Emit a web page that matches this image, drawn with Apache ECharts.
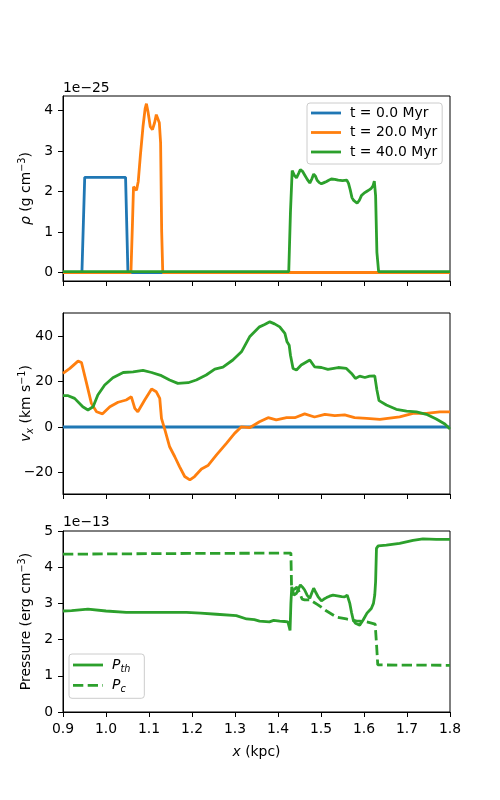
<!DOCTYPE html>
<html><head><meta charset="utf-8">
<script src="https://cdn.jsdelivr.net/npm/echarts@6/dist/echarts.min.js"></script>
<style>html,body{margin:0;padding:0;background:#fff}#c{width:500px;height:800px}</style>
</head><body><div id="c"></div>
<script>
// ---- data ----
const xTicks = [0.9, 1.0, 1.1, 1.2, 1.3, 1.4, 1.5, 1.6, 1.7, 1.8];
const rhoTicks = [0, 1, 2, 3, 4];
const vxTicks = [-20, 0, 20, 40];
const pTicks = [0, 1, 2, 3, 4, 5];
const legendNames = ['t = 0.0 Myr', 't = 20.0 Myr', 't = 40.0 Myr'];

// density (units of 1e-25 g cm^-3)
const rho0X = [0.9, 0.944, 0.9505, 1.0455, 1.051, 1.8];
const rho0Y = [0, 0, 2.35, 2.35, 0, 0];
const rho20X = [0.9, 1.058, 1.0615, 1.064, 1.068, 1.071, 1.075, 1.080, 1.086, 1.091, 1.094, 1.098, 1.103, 1.108, 1.113, 1.117, 1.120, 1.124, 1.127, 1.1295, 1.132, 1.8];
const rho20Y = [0, 0, 1.2, 2.12, 2.1, 2.03, 2.25, 2.9, 3.6, 4.05, 4.17, 3.95, 3.6, 3.53, 3.7, 3.9, 3.92, 3.7, 3.2, 1.0, 0, 0];
const rho40X = [0.9, 1.425, 1.429, 1.433, 1.438, 1.443, 1.448, 1.452, 1.457, 1.462, 1.468, 1.474, 1.479, 1.483, 1.487, 1.491, 1.496, 1.501, 1.507, 1.513, 1.518, 1.524, 1.532, 1.540, 1.550, 1.560, 1.564, 1.568, 1.572, 1.576, 1.580, 1.584, 1.589, 1.594, 1.600, 1.606, 1.612, 1.617, 1.621, 1.624, 1.627, 1.630, 1.634, 1.8];
const rho40Y = [0.02, 0.02, 1.5, 2.52, 2.4, 2.34, 2.45, 2.54, 2.5, 2.41, 2.3, 2.21, 2.32, 2.43, 2.38, 2.28, 2.22, 2.19, 2.22, 2.25, 2.28, 2.31, 2.3, 2.28, 2.27, 2.28, 2.2, 2.04, 1.85, 1.78, 1.75, 1.71, 1.78, 1.90, 1.96, 2.0, 2.04, 2.08, 2.14, 2.26, 1.9, 0.5, 0.02, 0.02];

// velocity (km/s)
const vx0X = [0.9, 1.8];
const vx0Y = [0, 0];
const vx20X = [0.9, 0.916, 0.935, 0.943, 0.954, 0.966, 0.978, 0.992, 1.009, 1.028, 1.047, 1.059, 1.067, 1.074, 1.090, 1.106, 1.117, 1.125, 1.129, 1.137, 1.148, 1.160, 1.171, 1.183, 1.195, 1.206, 1.222, 1.237, 1.257, 1.280, 1.299, 1.315, 1.334, 1.357, 1.377, 1.396, 1.420, 1.439, 1.462, 1.485, 1.509, 1.532, 1.555, 1.578, 1.606, 1.637, 1.683, 1.714, 1.745, 1.776, 1.8];
const vx20Y = [23.6, 25.8, 29.0, 28.4, 19.9, 10.4, 6.7, 5.8, 8.9, 10.9, 11.9, 13.3, 8.2, 6.7, 11.9, 16.7, 15.5, 12.6, 3.8, -1.3, -8.7, -13.1, -17.4, -21.8, -23.3, -21.8, -18.5, -17, -12.3, -7.2, -2.8, 0.1, -0.3, 2.3, 4.1, 3.1, 4.1, 4.1, 5.8, 4.4, 5.6, 5.0, 5.3, 4.1, 3.8, 3.4, 4.5, 6.0, 6.0, 6.7, 6.7];
const vx40X = [0.9, 0.912, 0.927, 0.946, 0.958, 0.970, 0.981, 0.997, 1.016, 1.040, 1.063, 1.086, 1.106, 1.129, 1.148, 1.167, 1.191, 1.210, 1.233, 1.253, 1.272, 1.295, 1.315, 1.334, 1.357, 1.369, 1.381, 1.392, 1.404, 1.416, 1.421, 1.426, 1.429, 1.435, 1.443, 1.454, 1.474, 1.485, 1.501, 1.516, 1.540, 1.559, 1.571, 1.580, 1.590, 1.602, 1.613, 1.625, 1.630, 1.635, 1.652, 1.675, 1.699, 1.722, 1.745, 1.768, 1.788, 1.8];
const vx40Y = [13.8, 13.8, 12.6, 8.9, 7.5, 8.9, 14.1, 18.5, 21.7, 24.0, 24.3, 24.9, 24.0, 22.6, 20.7, 19.2, 19.5, 20.7, 22.9, 25.5, 26.4, 29.5, 33.1, 39.7, 44.1, 45.1, 46.3, 45.4, 44.1, 41.2, 37.5, 36.0, 31.6, 25.8, 25.1, 27.3, 29.5, 26.5, 26.2, 25.4, 26.2, 25.8, 23.6, 21.4, 22.4, 21.8, 22.4, 22.5, 16.3, 11.6, 9.7, 7.8, 7.0, 6.7, 5.6, 3.5, 1.3, -0.9];

// pressure (units of 1e-13 erg cm^-3)
const pthX = [0.9, 0.92, 0.958, 1.0, 1.047, 1.1, 1.156, 1.187, 1.22, 1.257, 1.303, 1.327, 1.345, 1.357, 1.38, 1.39, 1.404, 1.415, 1.423, 1.426, 1.428, 1.430, 1.432, 1.437, 1.440, 1.443, 1.447, 1.452, 1.457, 1.462, 1.468, 1.474, 1.479, 1.483, 1.488, 1.493, 1.501, 1.507, 1.513, 1.520, 1.528, 1.538, 1.548, 1.555, 1.561, 1.567, 1.571, 1.575, 1.58, 1.584, 1.590, 1.598, 1.607, 1.617, 1.622, 1.625, 1.627, 1.629, 1.633, 1.652, 1.683, 1.714, 1.737, 1.768, 1.8];
const pthY = [2.79, 2.80, 2.84, 2.79, 2.75, 2.75, 2.75, 2.75, 2.73, 2.70, 2.66, 2.57, 2.55, 2.51, 2.49, 2.53, 2.51, 2.50, 2.49, 2.35, 2.25, 3.0, 3.46, 3.23, 3.25, 3.28, 3.25, 3.51, 3.45, 3.37, 3.22, 3.14, 3.30, 3.42, 3.3, 3.19, 3.07, 3.12, 3.16, 3.20, 3.23, 3.21, 3.19, 3.18, 3.23, 3.0, 2.75, 2.54, 2.45, 2.42, 2.40, 2.54, 2.73, 2.86, 3.0, 3.23, 3.6, 4.52, 4.59, 4.61, 4.66, 4.74, 4.78, 4.77, 4.77];
const pcX = [0.9, 1.2, 1.43, 1.4315, 1.437, 1.444, 1.450, 1.456, 1.462, 1.474, 1.493, 1.513, 1.536, 1.559, 1.582, 1.606, 1.626, 1.6295, 1.632, 1.8];
const pcY = [4.36, 4.38, 4.39, 3.45, 3.38, 3.45, 3.3, 3.12, 3.1, 3.1, 2.96, 2.79, 2.62, 2.57, 2.52, 2.49, 2.43, 1.8, 1.30, 1.29];

// ---- chart ----
const C_BLUE = '#1f77b4', C_ORANGE = '#ff7f0e', C_GREEN = '#2ca02c';
const FONT = 'DejaVu Sans';
const FS = 13.9;
const LW = 2.8;
const zip = (xs, ys) => xs.map((x, i) => [x, ys[i]]);

const rich = {
  n: { fontFamily: FONT, fontSize: FS, color: '#000', lineHeight: 18 },
  i: { fontFamily: FONT, fontSize: FS, fontStyle: 'italic', color: '#000', lineHeight: 18 },
  sup: { fontFamily: FONT, fontSize: 9.7, color: '#000', verticalAlign: 'top', lineHeight: 18 },
  isub: { fontFamily: FONT, fontSize: 9.7, fontStyle: 'italic', color: '#000', verticalAlign: 'bottom', lineHeight: 18 }
};

const grids = [
  { left: 63, right: 50, top: 96, height: 185 },
  { left: 63, right: 50, top: 313, height: 181 },
  { left: 63, right: 50, top: 531, height: 181 }
].map(g => Object.assign(g, { show: true, borderColor: '#000', borderWidth: 1, containLabel: false, outerBoundsMode: 'none' }));

function xAx(idx, showLabels) {
  return {
    type: 'value', gridIndex: idx, min: 0.9, max: 1.8,
    splitLine: { show: false },
    axisLine: { show: true, onZero: false, lineStyle: { color: '#000', width: 1 } },
    axisTick: { show: true, length: 5, lineStyle: { color: '#000' }, customValues: xTicks },
    axisLabel: { show: showLabels, customValues: xTicks, margin: 10, color: '#000', fontFamily: FONT, fontSize: FS,
      formatter: v => v.toFixed(1) },
    name: showLabels ? '{i|x}{n| (kpc)}' : '',
    nameLocation: 'middle', nameGap: 31, nameMoveOverlap: false,
    nameTextStyle: { rich: rich }
  };
}
function yAx(idx, min, max, ticks, name, gap) {
  return {
    type: 'value', gridIndex: idx, min: min, max: max,
    splitLine: { show: false },
    axisLine: { show: true, onZero: false, lineStyle: { color: '#000', width: 1 } },
    axisTick: { show: true, length: 5, lineStyle: { color: '#000' }, customValues: ticks },
    axisLabel: { customValues: ticks, margin: 10, color: '#000', fontFamily: FONT, fontSize: FS,
      formatter: v => (v < 0 ? '\u2212' + Math.abs(v) : String(v)) },
    name: name, nameLocation: 'middle', nameGap: gap, nameMoveOverlap: false,
    nameTextStyle: { rich: rich }
  };
}

function line(name, xi, xs, ys, color, dashed) {
  return {
    type: 'line', name: name, xAxisIndex: xi, yAxisIndex: xi,
    data: zip(xs, ys), showSymbol: false, symbol: 'none', smooth: false,
    lineStyle: { color: color, width: LW, type: dashed ? [10.3, 4.4] : 'solid', cap: 'butt' },
    itemStyle: { color: color }, z: 3
  };
}

const SOLID_ICON = 'path://M0,0h30v2.8h-30z';
const DASH_ICON = 'path://M0,0h10.3v2.8h-10.3zM14.7,0h10.3v2.8h-10.3zM29.4,0h0.6v2.8h-0.6z';

const option = {
  animation: false,
  backgroundColor: '#fff',
  grid: grids,
  xAxis: [xAx(0, false), xAx(1, false), xAx(2, true)],
  yAxis: [
    yAx(0, -0.21, 4.36, rhoTicks, '{i|\u03c1}{n| (g cm}{sup|\u22123}{n|)}', 28),
    yAx(1, -29.5, 50.2, vxTicks, '{i|v}{isub|x}{n| (km s}{sup|\u22121}{n|)}', 28),
    yAx(2, 0, 5, pTicks, '{n|Pressure (erg cm}{sup|\u22123}{n|)}', 28)
  ],
  legend: [
    {
      data: legendNames.map(n => ({ name: n, icon: SOLID_ICON })), left: 307, top: 103, orient: 'vertical',
      itemWidth: 30, itemHeight: 14, itemGap: 5.5, symbolKeepAspect: true,
      padding: [3, 5, 5, 4],
      backgroundColor: 'rgba(255,255,255,0.8)', borderColor: '#cccccc', borderWidth: 1, borderRadius: 3,
      textStyle: { fontFamily: FONT, fontSize: FS, color: '#000', padding: [0, 0, 0, 4] }
    },
    {
      data: [{ name: 'Pth', icon: SOLID_ICON }, { name: 'Pc', icon: DASH_ICON }], left: 69, top: 654, orient: 'vertical',
      itemWidth: 30, itemHeight: 14, itemGap: 4.3, symbolKeepAspect: true,
      padding: [4, 14, 4, 4],
      backgroundColor: 'rgba(255,255,255,0.8)', borderColor: '#cccccc', borderWidth: 1, borderRadius: 3,
      formatter: n => n === 'Pth' ? '{i|P}{isub|th}' : '{i|P}{isub|c}',
      textStyle: { fontFamily: FONT, fontSize: FS, color: '#000', padding: [0, 0, 0, 4], rich: rich }
    }
  ],
  graphic: [
    { type: 'text', left: 63, top: 81, style: { text: '1e\u221225', font: '13.9px "DejaVu Sans"', fill: '#000' } },
    { type: 'text', left: 63, top: 515, style: { text: '1e\u221213', font: '13.9px "DejaVu Sans"', fill: '#000' } }
  ],
  series: [
    line(legendNames[0], 0, rho0X, rho0Y, C_BLUE),
    line(legendNames[1], 0, rho20X, rho20Y, C_ORANGE),
    line(legendNames[2], 0, rho40X, rho40Y, C_GREEN),
    line(legendNames[0], 1, vx0X, vx0Y, C_BLUE),
    line(legendNames[1], 1, vx20X, vx20Y, C_ORANGE),
    line(legendNames[2], 1, vx40X, vx40Y, C_GREEN),
    line('Pth', 2, pthX, pthY, C_GREEN),
    line('Pc', 2, pcX, pcY, C_GREEN, true)
  ]
};
const chart = echarts.init(document.getElementById('c'), null, { renderer: 'canvas' });
chart.setOption(option);
</script>
</body></html>
